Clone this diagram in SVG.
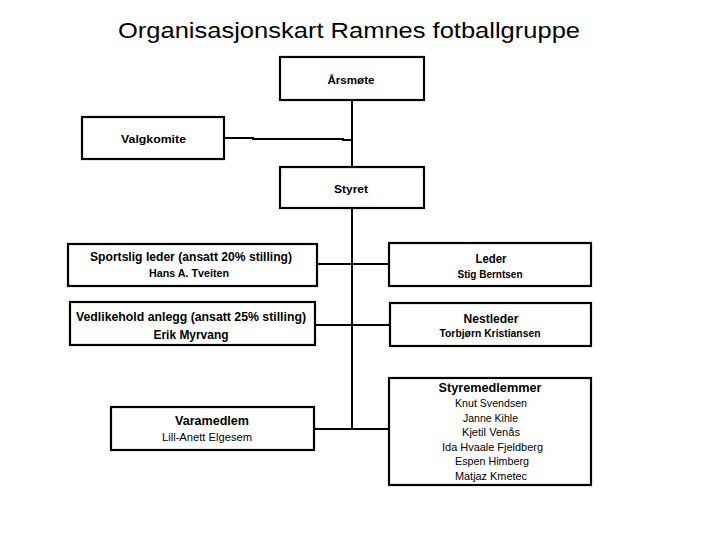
<svg xmlns="http://www.w3.org/2000/svg" width="720" height="540" viewBox="0 0 720 540">
<style>
.box{fill:#fff;stroke:#000;stroke-width:2.2}
.ln{fill:none;stroke:#000;stroke-width:2}
text{font-family:"Liberation Sans",Arial,sans-serif;fill:#000;text-anchor:middle}
.h{font-size:12px;font-weight:bold}
.hs{font-size:10.5px;font-weight:bold}
.n{font-size:10.5px}
.nb{font-size:10px;font-weight:bold}
.t{font-size:22px}
</style>
<rect width="720" height="540" fill="#fff"/>
<text class="t" x="349" y="38" textLength="462" lengthAdjust="spacingAndGlyphs">Organisasjonskart Ramnes fotballgruppe</text>
<g id="connectors">
<path class="ln" d="M352 100V428"/>
<path class="ln" d="M224 138H253V139H343V140H352"/>
<path class="ln" d="M317 264H389"/>
<path class="ln" d="M315 325H390"/>
<path class="ln" d="M314 429H389"/>
</g>
<g id="arsmote">
<rect class="box" x="280" y="57" width="144" height="43"/>
<text class="hs" x="351" y="84" textLength="47" lengthAdjust="spacingAndGlyphs">Årsmøte</text>
</g>
<g id="valgkomite">
<rect class="box" x="82" y="117" width="142" height="42"/>
<text class="hs" x="153.5" y="143" textLength="65" lengthAdjust="spacingAndGlyphs">Valgkomite</text>
</g>
<g id="styret">
<rect class="box" x="280" y="167" width="144" height="41"/>
<text class="hs" x="351" y="193" textLength="34" lengthAdjust="spacingAndGlyphs">Styret</text>
</g>
<g id="sportslig">
<rect class="box" x="68" y="244" width="249" height="42"/>
<text class="h" x="191" y="261" textLength="202" lengthAdjust="spacingAndGlyphs">Sportslig leder (ansatt 20% stilling)</text>
<text class="nb" x="189" y="277" textLength="80" lengthAdjust="spacingAndGlyphs">Hans A. Tveiten</text>
</g>
<g id="vedlikehold">
<rect class="box" x="70" y="302" width="245" height="43"/>
<text class="h" x="191" y="321" textLength="230" lengthAdjust="spacingAndGlyphs">Vedlikehold anlegg (ansatt 25% stilling)</text>
<text class="h" x="191" y="339" textLength="75" lengthAdjust="spacingAndGlyphs">Erik Myrvang</text>
</g>
<g id="leder">
<rect class="box" x="389" y="243" width="202" height="43"/>
<text class="h" x="491" y="263" textLength="31" lengthAdjust="spacingAndGlyphs">Leder</text>
<text class="nb" x="490" y="278" textLength="65" lengthAdjust="spacingAndGlyphs">Stig Berntsen</text>
</g>
<g id="nestleder">
<rect class="box" x="390" y="303" width="201" height="43"/>
<text class="h" x="491" y="323" textLength="55" lengthAdjust="spacingAndGlyphs">Nestleder</text>
<text class="nb" x="490" y="337" textLength="101" lengthAdjust="spacingAndGlyphs">Torbjørn Kristiansen</text>
</g>
<g id="varamedlem">
<rect class="box" x="111" y="407" width="203" height="43"/>
<text class="h" x="212" y="425" textLength="74" lengthAdjust="spacingAndGlyphs">Varamedlem</text>
<text class="n" x="207" y="441" textLength="90" lengthAdjust="spacingAndGlyphs">Lill-Anett Elgesem</text>
</g>
<g id="styremedlemmer">
<rect class="box" x="389" y="378" width="202" height="107"/>
<text class="h" x="490" y="392" textLength="103" lengthAdjust="spacingAndGlyphs">Styremedlemmer</text>
<text class="n" x="491" y="407" textLength="72" lengthAdjust="spacingAndGlyphs">Knut Svendsen</text>
<text class="n" x="490.5" y="422" textLength="55" lengthAdjust="spacingAndGlyphs">Janne Kihle</text>
<text class="n" x="491" y="436" textLength="58" lengthAdjust="spacingAndGlyphs">Kjetil Venås</text>
<text class="n" x="492.5" y="451" textLength="101" lengthAdjust="spacingAndGlyphs">Ida Hvaale Fjeldberg</text>
<text class="n" x="492" y="465" textLength="74" lengthAdjust="spacingAndGlyphs">Espen Himberg</text>
<text class="n" x="491" y="480" textLength="72" lengthAdjust="spacingAndGlyphs">Matjaz Kmetec</text>
</g>
</svg>
